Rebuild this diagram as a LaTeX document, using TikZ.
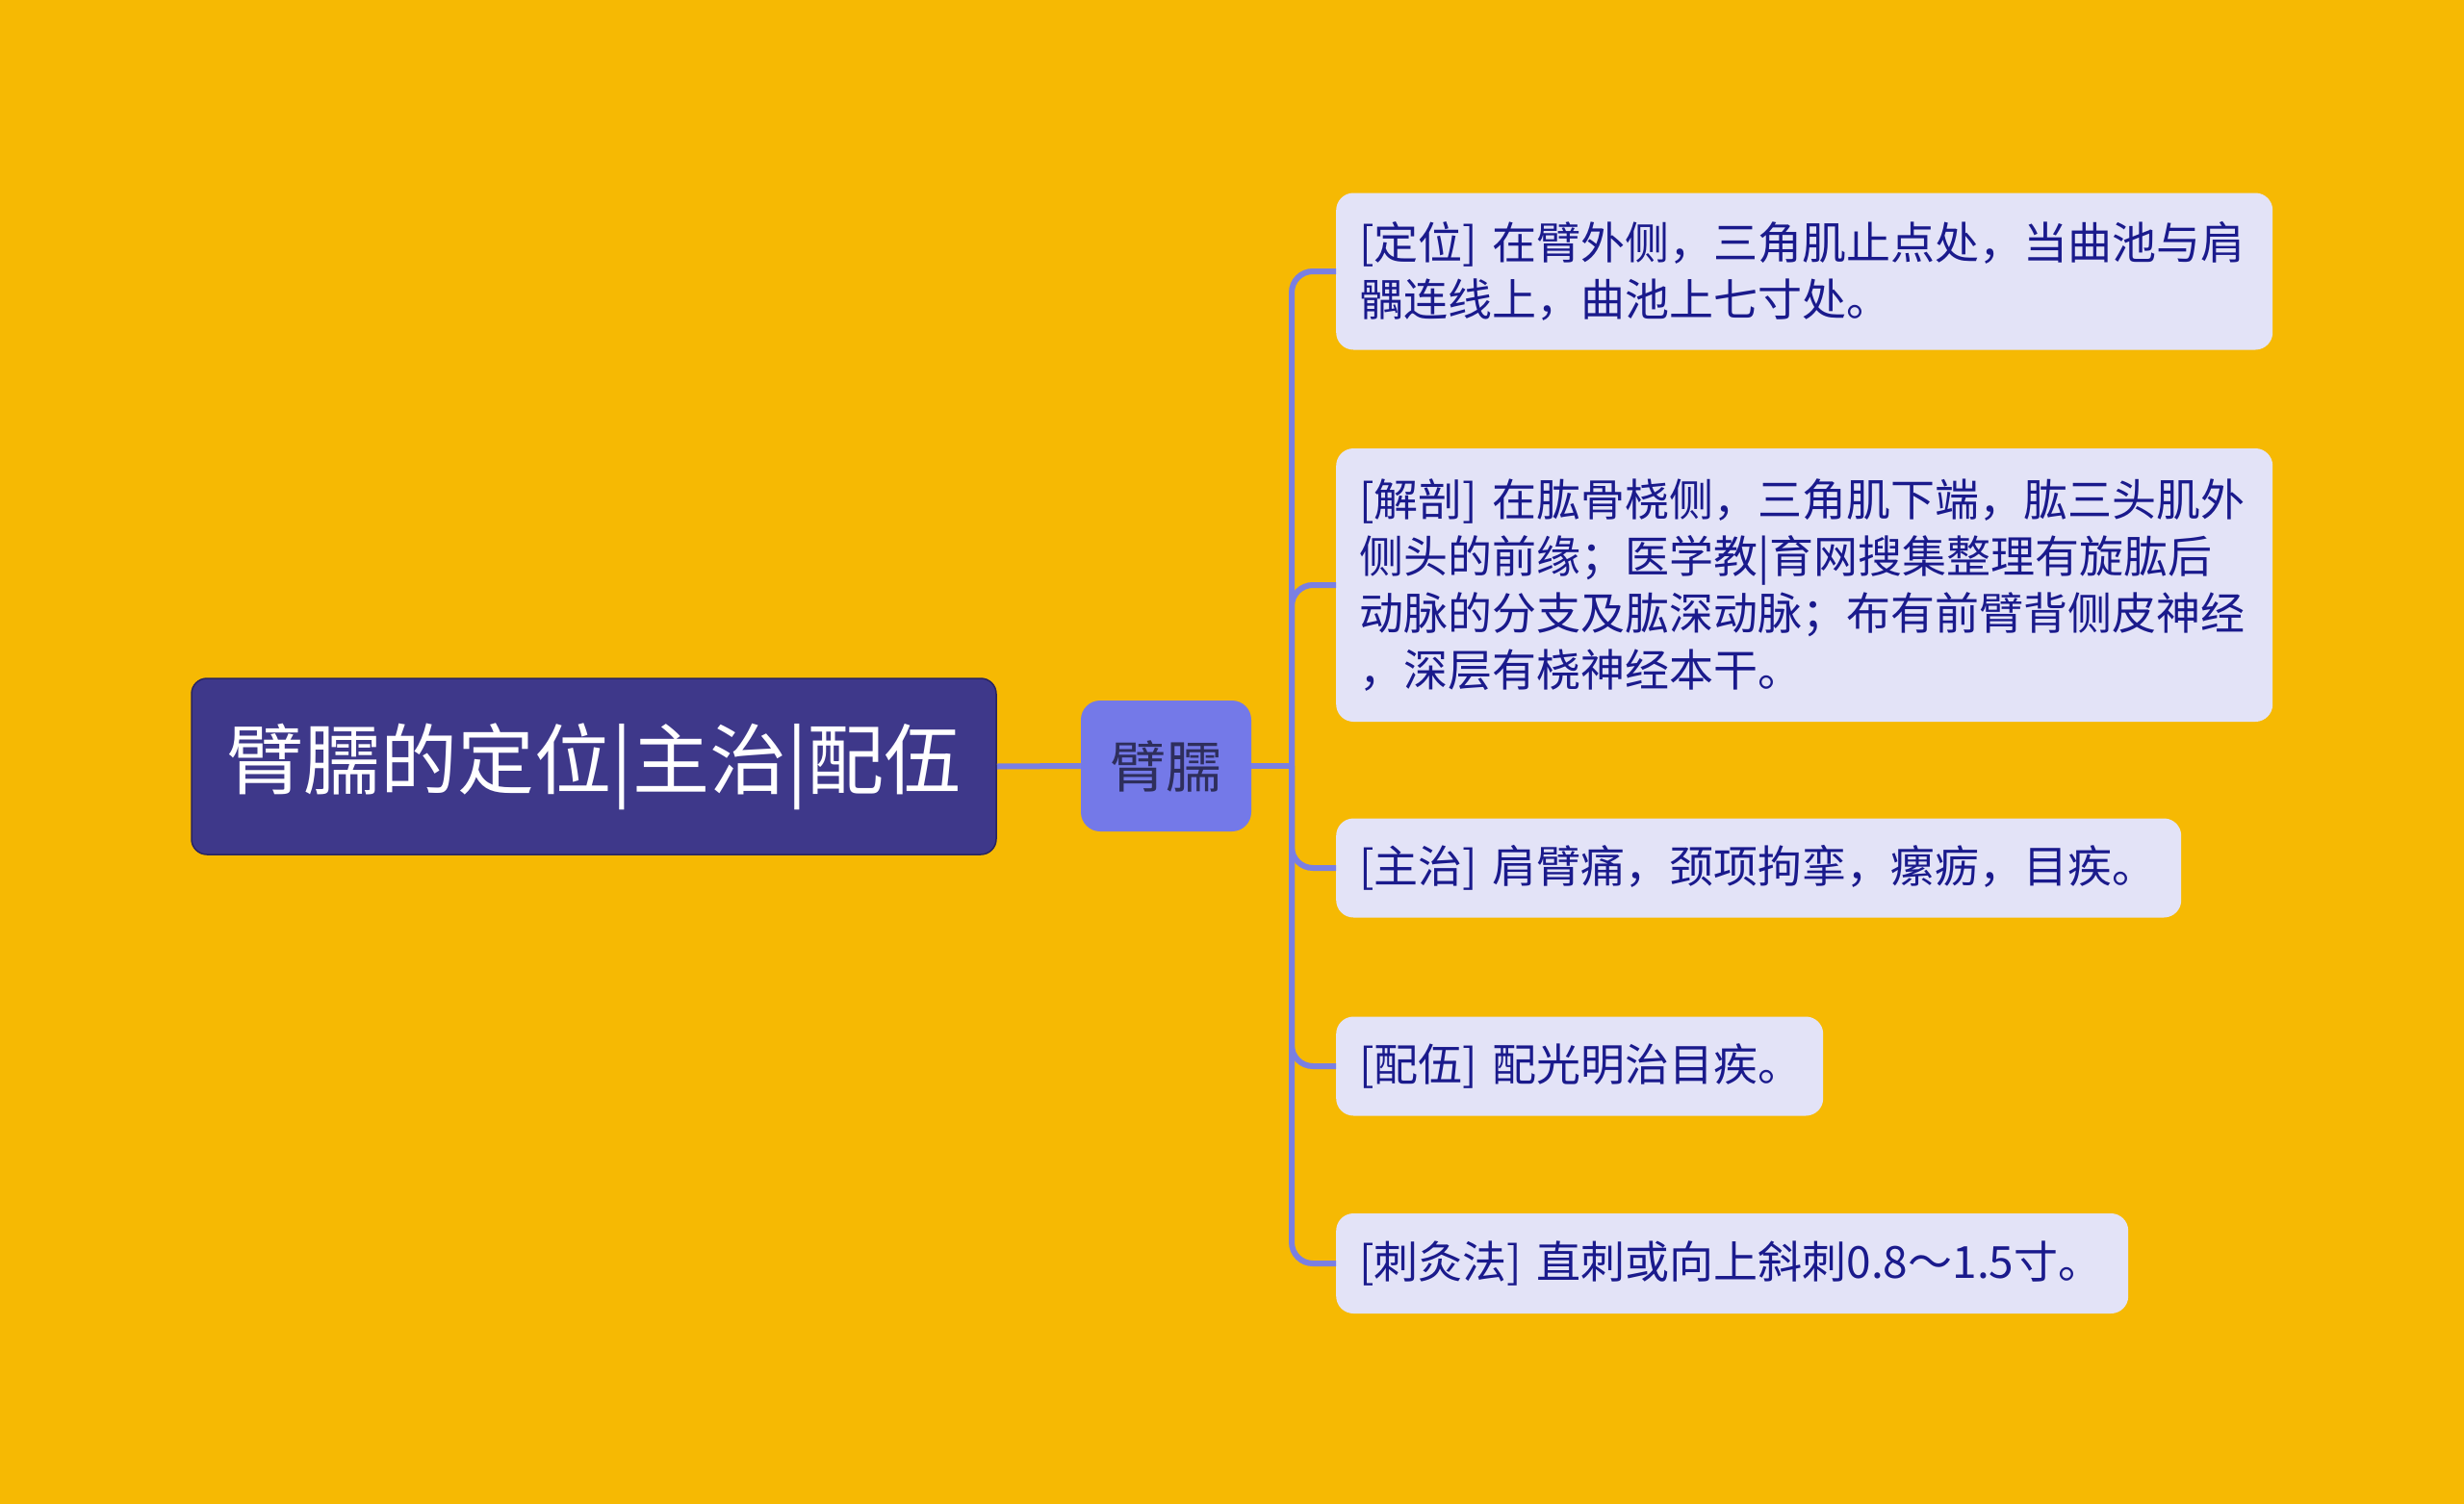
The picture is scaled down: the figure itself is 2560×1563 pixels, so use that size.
\documentclass[tikz,border=0pt]{standalone}
\usepackage{fontspec}
\newfontfamily\cjk{Noto Sans CJK SC}
\definecolor{bgc}{HTML}{F6B903}
\definecolor{rootc}{HTML}{3E388A}
\definecolor{rootborder}{HTML}{2A2560}
\definecolor{midc}{HTML}{7479E8}
\definecolor{midtext}{HTML}{2E2E5C}
\definecolor{leafc}{HTML}{E3E3F7}
\definecolor{leaftext}{HTML}{1A1A8C}
\definecolor{linkc}{HTML}{7A7FE2}
\begin{document}
\begin{tikzpicture}[x=1pt,y=-1pt,
  rootbox/.style={rectangle, rounded corners=16pt, fill=rootc, draw=rootborder, line width=1.5pt,
    text=white, font=\cjk\fontsize{80}{96}\selectfont, minimum width=836pt, minimum height=183pt, inner sep=0pt},
  midbox/.style={rectangle, rounded corners=20pt, fill=midc, text=midtext,
    font=\cjk\fontsize{58}{68}\selectfont, minimum width=177pt, minimum height=136pt, inner sep=0pt},
  leafbox/.style={rectangle, rounded corners=18pt, fill=leafc, text=leaftext,
    font=\cjk\fontsize{46}{59}\selectfont, align=left, inner xsep=24pt, inner ysep=0pt, anchor=west},
  link/.style={draw=linkc, line width=6pt},
  branch/.style={link, rounded corners=22pt}]
\useasboundingbox (0,0) rectangle (2560,1563);
\fill[bgc] (0,0) rectangle (2560,1563);

\node[rootbox] (root) at (617,796.5) {臂臑的定位|主治|配伍};
\node[midbox] (mid) at (1211.5,796) {臂臑};

\node[leafbox, text width=925pt, minimum height=163pt] (l1) at (1388,282)
  {[定位]~在臂外侧，三角肌止点处，当曲池与肩\\髃连线上，曲池上七寸处。};
\node[leafbox, text width=925pt, minimum height=284pt] (l2) at (1388,608)
  {[解剖]~在肱骨桡侧，三角肌下端，肱三头肌外\\侧头的前缘；医学教|育网搜集整理有旋肱后\\动脉的分支及肱深动脉；布有前臂背侧皮神经\\，深层有桡神经本干。};
\node[leafbox, text width=830pt, minimum height=103pt] (l3) at (1388,902)
  {[主治]~肩臂痛，颈项拘挛，瘰疬，目疾。};
\node[leafbox, text width=458pt, minimum height=103pt] (l4) at (1388,1108)
  {[配伍]~配光明治目疾。};
\node[leafbox, text width=775pt, minimum height=104pt] (l5) at (1388,1313)
  {[刺灸法]~直刺或向上斜刺0.8～1.5寸。};

\coordinate (trunk) at (1342,796);
\draw[link] (root.east) -- (mid.west);
\draw[link] (mid.east) -- (trunk);
\foreach \l in {l1,l2,l3,l4,l5}
  \draw[branch] (trunk) |- (\l.west);
\end{tikzpicture}
\end{document}
